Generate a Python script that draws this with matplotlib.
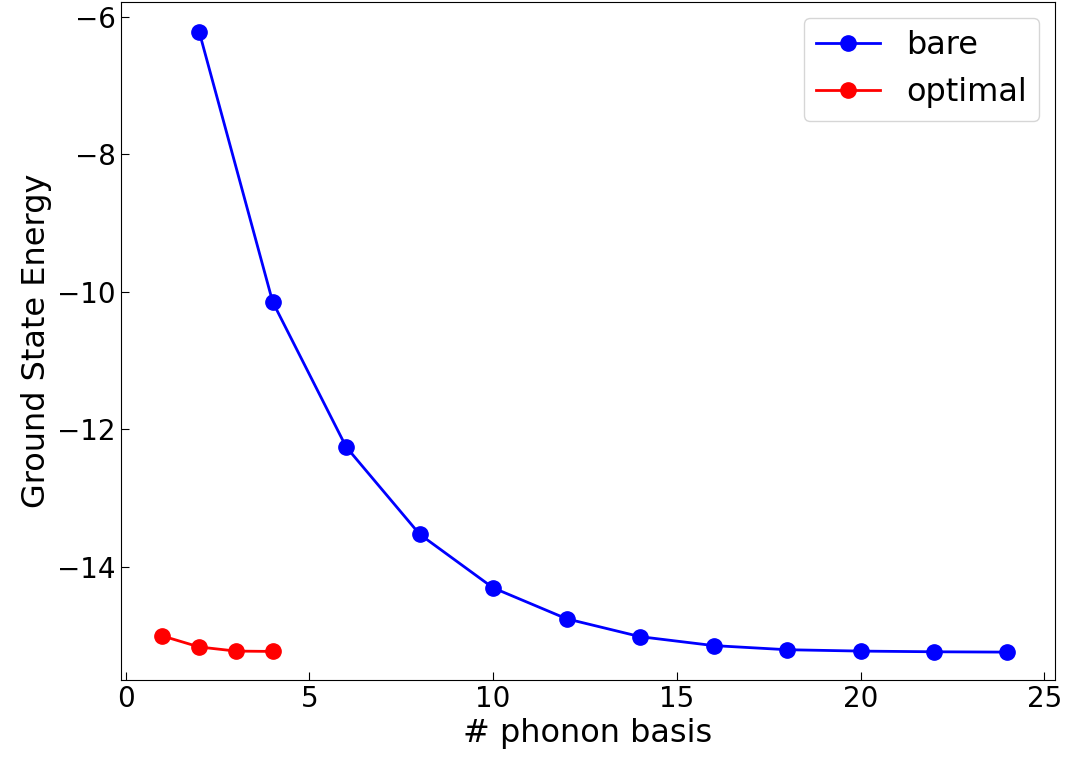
import matplotlib
matplotlib.use("Agg")
import matplotlib.pyplot as plt

bare_x = [2, 4, 6, 8, 10, 12, 14, 16, 18, 20, 22, 24]
bare_y = [-6.22, -10.15, -12.26, -13.53, -14.31, -14.76, -15.02, -15.15, -15.21, -15.23, -15.24, -15.245]
opt_x = [1, 2, 3, 4]
opt_y = [-15.01, -15.17, -15.23, -15.235]

plt.rcParams["font.size"] = 20
fig = plt.figure(figsize=(10.67, 7.64), dpi=100)
ax = fig.add_axes([0.113, 0.11, 0.876, 0.888])
ax.plot(bare_x, bare_y, "o-", color="blue", markersize=11, linewidth=2, label="bare")
ax.plot(opt_x, opt_y, "o-", color="red", markersize=11, linewidth=2, label="optimal")
ax.set_xlim(-0.14, 25.3)
ax.set_ylim(-15.65, -5.78)
ax.set_xticks([0, 5, 10, 15, 20, 25])
ax.set_yticks([-14, -12, -10, -8, -6])
ax.tick_params(direction="in", length=6)
ax.set_xlabel("# phonon basis", fontsize=23)
ax.set_ylabel("Ground State Energy", fontsize=23)
ax.legend(loc="upper right", fontsize=23)
fig.savefig("out.png", dpi=100)
